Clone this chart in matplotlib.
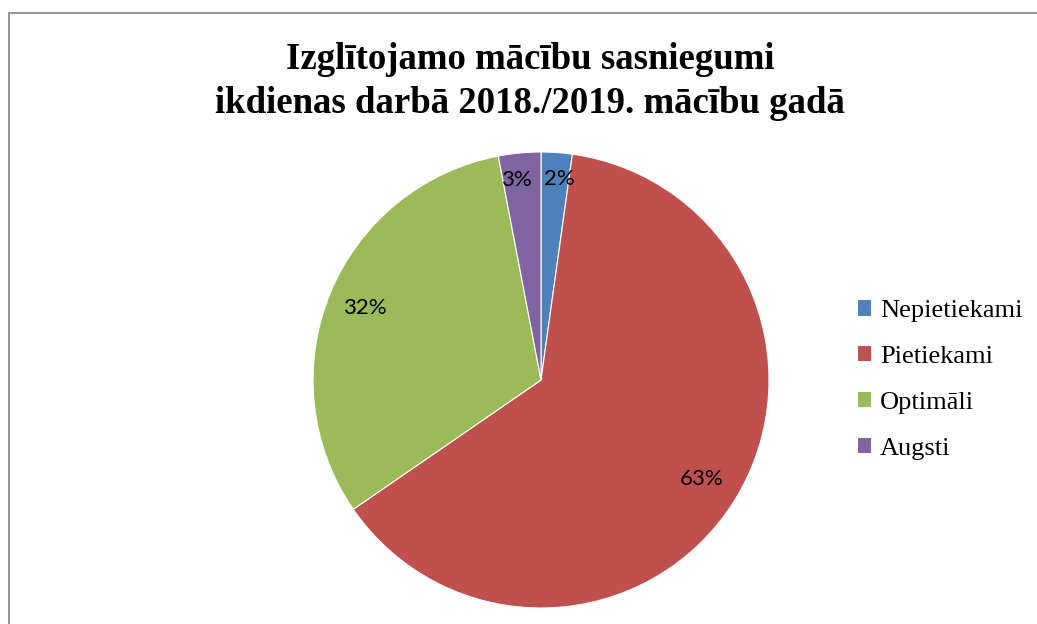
import matplotlib
matplotlib.use("Agg")
import matplotlib.pyplot as plt
from matplotlib.patches import Rectangle, Patch
import numpy as np

labels = ["Nepietiekami", "Pietiekami", "Optimāli", "Augsti"]
values = [2.2, 63.2, 31.6, 3.0]
pct_labels = ["2%", "63%", "32%", "3%"]
colors = ["#4F81BD", "#C0504D", "#9BBB59", "#8064A2"]

W, H = 1037, 624
fig = plt.figure(figsize=(W / 100, H / 100), dpi=100)

# chart frame (cut off at right and bottom)
fig.patches.append(Rectangle((9 / W, -0.1), 1.2, 0.1 + 610.5 / H, transform=fig.transFigure,
                             fill=False, edgecolor="#8c8c8c", linewidth=1.3))

fig.text(530 / W, 1 - 81.5 / H, "Izglītojamo mācību sasniegumi\nikdienas darbā 2018./2019. mācību gadā",
         ha="center", va="center", fontsize=26.5, fontweight="bold",
         family="Liberation Serif", linespacing=1.3)

r = 228
ax = fig.add_axes([(541 - r) / W, (624 - 380 - r) / H, 2 * r / W, 2 * r / H])
wedges, _ = ax.pie(values, colors=colors, startangle=90, counterclock=False,
                   wedgeprops=dict(edgecolor="white", linewidth=0.8))
ax.set_xlim(-1, 1)
ax.set_ylim(-1, 1)
ax.set_aspect("equal")
ax.axis("off")

# label distance and small angular nudge (deg) for the thin slices
dist = [0.885, 0.83, 0.835, 0.885]
nudge = [-1.3, 0, 0, 1.5]
cum = 0
for v, t, d, n in zip(values, pct_labels, dist, nudge):
    mid = 90 - (cum + v / 2) / sum(values) * 360 + n
    cum += v
    a = np.deg2rad(mid)
    ax.text(d * np.cos(a), d * np.sin(a), t, ha="center", va="center",
            fontsize=16, family="Lato", color="black")

handles = [Patch(facecolor=c, edgecolor="none") for c in colors]
leg = fig.legend(handles, labels, loc="center left", bbox_to_anchor=(834 / W, 1 - 380 / H),
                 frameon=False, prop=dict(family="Liberation Serif", size=19),
                 handlelength=0.5, handleheight=0.5, handletextpad=0.35, labelspacing=0.9)

fig.savefig("out.png", dpi=100, facecolor="white")
